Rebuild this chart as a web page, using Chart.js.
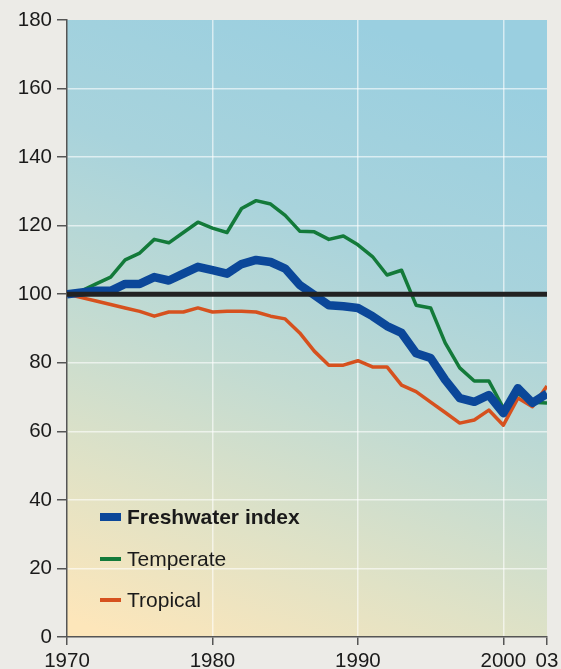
<!DOCTYPE html>
<html>
<head>
<meta charset="utf-8">
<script src="https://cdn.jsdelivr.net/npm/chart.js@4/dist/chart.umd.min.js"></script>
<style>
  html, body { margin: 0; padding: 0; background: #ecebe7; }
  #wrap { width: 561px; height: 669px; position: relative; }
</style>
</head>
<body>
<div id="wrap"><canvas id="c" width="561" height="669"></canvas></div>
<script>
const years = [1970,1971,1972,1973,1974,1975,1976,1977,1978,1979,1980,1981,1982,1983,1984,1985,1986,1987,1988,1989,1990,1991,1992,1993,1994,1995,1996,1997,1998,1999,2000,2001,2002,2003];
const freshwater = [100,100.5,101,101,103,103,105,104,106,108,107,106,108.8,110,109.4,107.5,102.7,99.8,96.8,96.5,96,93.6,90.7,88.7,82.8,81.4,75,69.7,68.6,70.6,65.3,72.6,68.3,71];
const temperate = [100,101,103,105,110,112,116,115,118,121,119.3,118,125,127.3,126.3,123,118.4,118.2,116,117,114.4,111,105.6,107,96.8,96,85.8,78.5,74.7,74.7,66.8,71,68.5,68.3];
const tropical = [100,99,98,97,96,95,93.6,94.8,94.8,96,94.8,95,95,94.8,93.6,92.8,88.7,83.4,79.3,79.3,80.6,78.8,78.8,73.5,71.6,68.5,65.5,62.4,63.3,66.2,61.8,69.7,67.2,73.2];
const baselineValue = 100;
const tickYears = [1970,1980,1990,2000,2003];
const tickLabels = ["1970","1980","1990","2000","03"];
const yTicks = [0,20,40,60,80,100,120,140,160,180];

const seriesLabels = ["Freshwater index","Temperate","Tropical"];

function pts(arr){ return years.map((y,i)=>({x:y,y:arr[i]})); }

const bgPlugin = {
  id: 'bg',
  beforeDraw(chart){
    const {ctx, chartArea:a} = chart;
    const w = a.right - a.left;
    const g = ctx.createLinearGradient(a.left + w*0.6, a.top, a.left + w*0.1, a.bottom);
    g.addColorStop(0, '#9acfe0');
    g.addColorStop(0.3, '#a8d3dc');
    g.addColorStop(0.55, '#c2dbd2');
    g.addColorStop(0.78, '#e0e2c6');
    g.addColorStop(1, '#fde6ba');
    ctx.save();
    ctx.fillStyle = g;
    ctx.fillRect(a.left, a.top, w, a.bottom-a.top);
    ctx.restore();
  }
};

const legendPlugin = {
  id: 'inlegend',
  afterDraw(chart){
    const {ctx} = chart;
    const items = [
      {ds: chart.data.datasets[1], y: 517, w: 8, bold: true},
      {ds: chart.data.datasets[2], y: 559, w: 4, bold: false},
      {ds: chart.data.datasets[3], y: 600, w: 4, bold: false}
    ];
    ctx.save();
    items.forEach(it=>{
      ctx.strokeStyle = it.ds.borderColor;
      ctx.lineWidth = it.w;
      ctx.lineCap = 'butt';
      ctx.beginPath();
      ctx.moveTo(100, it.y);
      ctx.lineTo(121, it.y);
      ctx.stroke();
      ctx.fillStyle = '#1a1a1a';
      ctx.font = (it.bold ? 'bold ' : '') + '21px "Liberation Sans", Arial, sans-serif';
      ctx.textBaseline = 'middle';
      ctx.textAlign = 'left';
      ctx.fillText(it.ds.label, 127, it.y + 1);
    });
    ctx.restore();
  }
};

const font = {family: '"Liberation Sans", Arial, sans-serif', size: 20.5};

new Chart(document.getElementById('c'), {
  type: 'line',
  data: {
    datasets: [
      {label: 'Baseline', data: [{x:years[0],y:baselineValue},{x:years[years.length-1],y:baselineValue}], borderColor: '#222222', borderWidth: 5, pointRadius: 0},
      {label: seriesLabels[0], data: pts(freshwater), borderColor: '#0b4799', borderWidth: 8.5, pointRadius: 0, borderJoinStyle: 'round'},
      {label: seriesLabels[1], data: pts(temperate), borderColor: '#137a3a', borderWidth: 3.5, pointRadius: 0, borderJoinStyle: 'round'},
      {label: seriesLabels[2], data: pts(tropical), borderColor: '#d6511e', borderWidth: 3.5, pointRadius: 0, borderJoinStyle: 'round'}
    ]
  },
  options: {
    responsive: false,
    animation: false,
    events: [],
    layout: {padding: {top: 20, right: 14, left: 0, bottom: 0}},
    plugins: {legend: {display: false}, tooltip: {enabled: false}},
    scales: {
      x: {
        type: 'linear', min: 1970, max: 2003,
        afterBuildTicks(s){ s.ticks = tickYears.map(v=>({value:v})); },
        afterFit(s){ s.height = 32; s.paddingRight = 0; s.paddingLeft = 0; },
        ticks: {
          autoSkip: false, maxRotation: 0, color: '#1a1a1a', font, padding: 4,
          callback(v){ const i = tickYears.indexOf(v); return i>=0 ? tickLabels[i] : ''; }
        },
        grid: {
          color(c){ const v = c.tick && c.tick.value; return (v===1970||v===2003) ? 'rgba(0,0,0,0)' : 'rgba(255,255,255,0.6)'; },
          lineWidth: 1.5, tickLength: 8, tickColor: '#555', tickWidth: 1.5
        },
        border: {color: '#555', width: 1.5}
      },
      y: {
        min: 0, max: 180,
        afterBuildTicks(s){ s.ticks = yTicks.map(v=>({value:v})); },
        afterFit(s){ s.width = 67; },
        ticks: {color: '#1a1a1a', font, padding: 5},
        grid: {
          color(c){ const v = c.tick && c.tick.value; return (v===0||v===180) ? 'rgba(0,0,0,0)' : 'rgba(255,255,255,0.6)'; },
          lineWidth: 1.5, tickLength: 10, tickColor: '#555', tickWidth: 1.5
        },
        border: {color: '#555', width: 1.5}
      }
    }
  },
  plugins: [bgPlugin, legendPlugin]
});
</script>
</body>
</html>
